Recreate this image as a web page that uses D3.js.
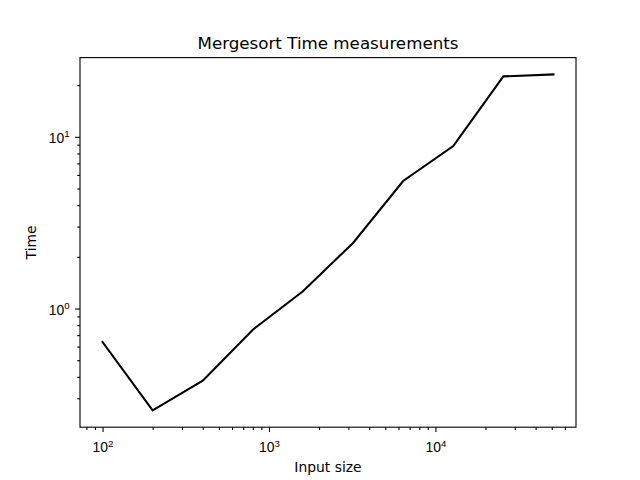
<!DOCTYPE html>
<html>
<head>
<meta charset="utf-8">
<script src="https://cdn.jsdelivr.net/npm/d3@7"></script>
<style>
  body { margin: 0; background: #fff; }
  svg { display: block; font-family: "DejaVu Sans", sans-serif; }
</style>
</head>
<body>
<svg id="chart" width="640" height="480"></svg>
<script>
// ---- data ----
const inputSizes = [100, 200, 400, 800, 1600, 3200, 6400, 12800, 25600, 51200];
const times = [0.638, 0.255, 0.380, 0.753, 1.26, 2.41, 5.53, 8.83, 22.5, 23.1];
const xMajorTicks = [100, 1000, 10000];
const xTickExponents = ["2", "3", "4"];
const yMajorTicks = [1, 10];
const yTickExponents = ["0", "1"];
const titleText = "Mergesort Time measurements";
const xLabelText = "Input size";
const yLabelText = "Time";

// ---- layout ----
const W = 640, H = 480;
const L = 80, R = 576, T = 57.6, B = 427.2;
const svg = d3.select("#chart");
svg.append("rect").attr("width", W).attr("height", H).attr("fill", "#fff");

function logDomain(vals) {
  const lo = Math.log10(d3.min(vals)), hi = Math.log10(d3.max(vals));
  const m = (hi - lo) * 0.05;
  return [Math.pow(10, lo - m), Math.pow(10, hi + m)];
}
const x = d3.scaleLog().domain(logDomain(inputSizes)).range([L, R]);
const y = d3.scaleLog().domain(logDomain(times)).range([B, T]);

function minorTicks(scale) {
  const [a, b] = scale.domain();
  const out = [];
  for (let e = Math.floor(Math.log10(a)); e <= Math.ceil(Math.log10(b)); e++) {
    for (let k = 2; k <= 9; k++) {
      const v = k * Math.pow(10, e);
      if (v >= a && v <= b) out.push(v);
    }
  }
  return out;
}

const tickW = 1.1, majorLen = 4.86, minorLen = 2.78;
const fs = 13.9, supFs = 9.7;

// x minor ticks
const gxMinor = svg.append("g").attr("transform", `translate(0,${B})`)
  .call(d3.axisBottom(x).tickValues(minorTicks(x)).tickSize(minorLen).tickFormat(""));
// x major ticks
const gx = svg.append("g").attr("transform", `translate(0,${B})`)
  .call(d3.axisBottom(x).tickValues(xMajorTicks).tickSize(majorLen).tickFormat(""));
// y minor ticks
const gyMinor = svg.append("g").attr("transform", `translate(${L},0)`)
  .call(d3.axisLeft(y).tickValues(minorTicks(y)).tickSize(minorLen).tickFormat(""));
// y major ticks
const gy = svg.append("g").attr("transform", `translate(${L},0)`)
  .call(d3.axisLeft(y).tickValues(yMajorTicks).tickSize(majorLen).tickFormat(""));

[gxMinor, gx, gyMinor, gy].forEach(g => {
  g.select(".domain").remove();
  g.selectAll(".tick line").attr("stroke", "#000").attr("stroke-width", tickW);
});

// x tick labels with superscripts
gx.selectAll(".tick").each(function(d, i) {
  const t = d3.select(this).select("text")
    .attr("y", 0).attr("dy", 0).attr("transform", "translate(0,25.2)")
    .attr("font-size", fs).attr("fill", "#000").attr("text-anchor", "middle");
  t.text(null);
  t.append("tspan").text("10");
  t.append("tspan").attr("font-size", supFs).attr("dy", -5.6).text(xTickExponents[i]);
});
// y tick labels with superscripts
gy.selectAll(".tick").each(function(d, i) {
  const t = d3.select(this).select("text")
    .attr("x", -(majorLen + 5.5)).attr("dy", 5.6)
    .attr("font-size", fs).attr("fill", "#000").attr("text-anchor", "end");
  t.text(null);
  t.append("tspan").text("10");
  t.append("tspan").attr("font-size", supFs).attr("dy", -5.6).text(yTickExponents[i]);
});

// line
const line = d3.line().x((d, i) => x(inputSizes[i])).y(d => y(d));
svg.append("path").datum(times)
  .attr("d", line)
  .attr("fill", "none").attr("stroke", "#000").attr("stroke-width", 2.08)
  .attr("stroke-linejoin", "miter").attr("stroke-linecap", "square");

// spines
svg.append("rect").attr("x", L).attr("y", T).attr("width", R - L).attr("height", B - T)
  .attr("fill", "none").attr("stroke", "#000").attr("stroke-width", tickW);

// title & labels
svg.append("text").attr("x", (L + R) / 2).attr("y", 49.2)
  .attr("text-anchor", "middle").attr("font-size", 16.7).attr("fill", "#000").text(titleText);
svg.append("text").attr("x", (L + R) / 2).attr("y", 471.5)
  .attr("text-anchor", "middle").attr("font-size", fs).attr("fill", "#000").text(xLabelText);
svg.append("text").attr("transform", `translate(35.5,${(T + B) / 2}) rotate(-90)`)
  .attr("text-anchor", "middle").attr("font-size", fs).attr("fill", "#000").text(yLabelText);
</script>
</body>
</html>
